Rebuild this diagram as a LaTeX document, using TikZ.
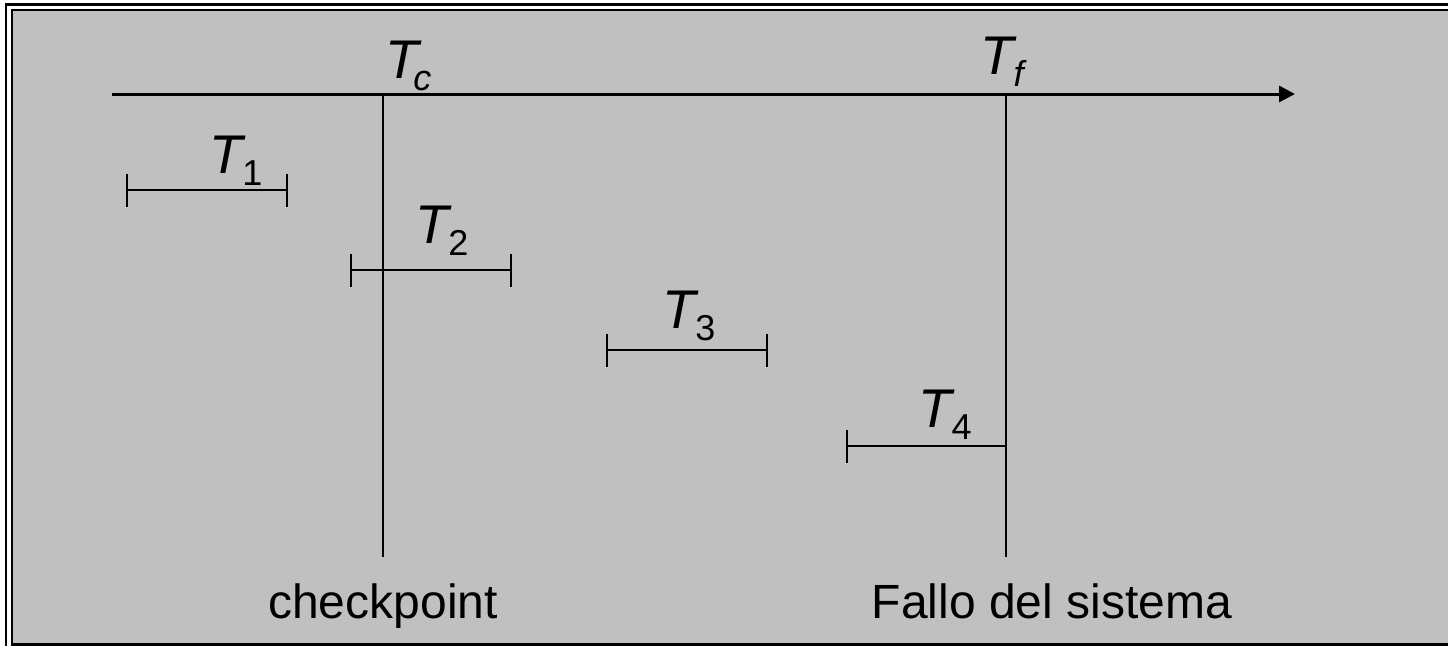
\documentclass[tikz,border=0pt]{standalone}
\usepackage{fontspec}
\setmainfont{Liberation Sans}
\usetikzlibrary{arrows.meta}
\definecolor{bg}{HTML}{C0C0C0}
\newcommand{\tlab}[1]{{\fontsize{54.5}{60}\selectfont\itshape T}\raisebox{-12pt}{\fontsize{36}{40}\selectfont #1}}
\begin{document}
\begin{tikzpicture}[x=1pt,y=-1pt,
  lbl/.style={inner sep=0pt, anchor=base west},
  bottomtxt/.style={inner sep=0pt, anchor=base, font=\fontsize{48}{56}\selectfont},
  axis/.style={line width=3pt, -{Triangle[length=16pt,width=16pt]}},
  vline/.style={line width=2pt},
  ival/.style={line width=2.6pt},
  tick/.style={line width=2pt}]
\useasboundingbox (0,0) rectangle (1448,646);
% frame
\fill[white] (0,0) rectangle (1448,646);
\fill[black] (5,3) rectangle (1448,646);
\fill[white] (7,6) rectangle (1448,646);
\fill[black] (11,9) rectangle (1448,646);
\fill[bg] (13,11) rectangle (1448,643);
% axis
\coordinate (a0) at (112,94);
\coordinate (a1) at (1295,94);
\draw[axis] (a0) -- (a1);
% checkpoint and failure lines
\coordinate (c0) at (383,94);
\coordinate (c1) at (383,557);
\coordinate (f0) at (1006,94);
\coordinate (f1) at (1006,557);
\draw[vline] (c0) -- (c1);
\draw[vline] (f0) -- (f1);
% intervals
\coordinate (t1a) at (127,190); \coordinate (t1b) at (287,190);
\coordinate (t2a) at (351,270); \coordinate (t2b) at (511,270);
\coordinate (t3a) at (607,350); \coordinate (t3b) at (767,350);
\coordinate (t4a) at (847,446); \coordinate (t4b) at (1006,446);
\draw[ival] (t1a) -- (t1b);
\draw[ival] (t2a) -- (t2b);
\draw[ival] (t3a) -- (t3b);
\draw[ival] (t4a) -- (t4b);
\foreach \p in {t1a,t1b,t2a,t2b,t3a,t3b,t4a}
  \draw[tick] ([yshift=-16.5pt]\p) -- ([yshift=16.5pt]\p);
% labels
\node[lbl] (lc) at (385,78) {\tlab{\kern-5pt\itshape c}};
\node[lbl] (lf) at (980,74) {\tlab{\itshape f}};
\node[lbl] (l1) at (209,173) {\tlab{1}};
\node[lbl] (l2) at (415,243) {\tlab{2}};
\node[lbl] (l3) at (662,328) {\tlab{3}};
\node[lbl] (l4) at (918,427) {\tlab{4}};
\node[bottomtxt] (cp) at (383,618) {checkpoint};
\node[bottomtxt] (fs) at (1052,618) {Fallo del sistema};
\end{tikzpicture}
\end{document}
